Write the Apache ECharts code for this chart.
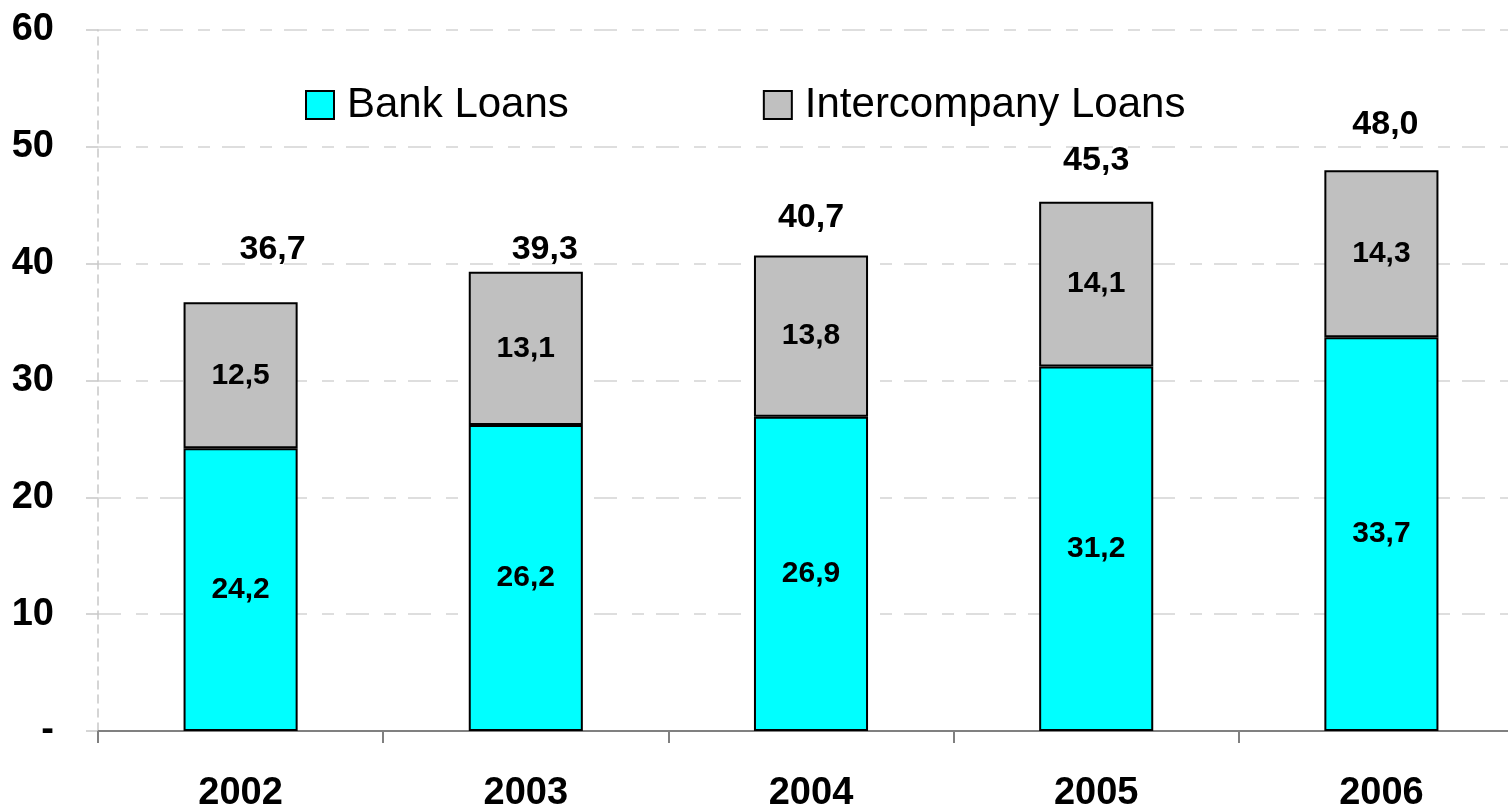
<!DOCTYPE html>
<html>
<head>
<meta charset="utf-8">
<script src="https://cdn.jsdelivr.net/npm/echarts@6/dist/echarts.min.js"></script>
<style>
html,body{margin:0;padding:0;background:#fff;overflow:hidden;}
#c{width:1508px;height:809px;}
</style>
</head>
<body>
<div id="c"></div>
<script>
const categories = ['2002', '2003', '2004', '2005', '2006'];
const bankLoans = [24.2, 26.2, 26.9, 31.2, 33.7];
const intercompanyLoans = [12.5, 13.1, 13.8, 14.1, 14.3];
const totals = [36.7, 39.3, 40.7, 45.3, 48.0];
const yTicks = [0, 10, 20, 30, 40, 50, 60];

// label nudges (style only), to mimic the original's hand-placed total labels
const totalLabelNudge = [[32, -12], [19, 19], [0, 3], [0, 0], [4, -5]];

const FONT = "'Liberation Sans', Arial, sans-serif";
const fmt = v => v.toFixed(1).replace('.', ',');

const chart = echarts.init(document.getElementById('c'));
chart.setOption({
  animation: false,
  backgroundColor: '#ffffff',
  grid: { left: 98, top: 30, width: 1426, height: 701, containLabel: false, outerBoundsMode: 'none' },
  legend: {
    data: ['Bank Loans', 'Intercompany Loans'],
    left: 305, top: 84, padding: 0,
    itemWidth: 28, itemHeight: 28, itemGap: 194,
    icon: 'rect',
    textStyle: { fontFamily: FONT, fontSize: 42, color: '#000', padding: [0, 0, 0, 8] }
  },
  xAxis: {
    type: 'category',
    data: categories,
    axisLine: { lineStyle: { color: '#808080', width: 2 } },
    axisTick: { show: true, length: 12, lineStyle: { color: '#808080', width: 2 } },
    axisLabel: { margin: 44, fontFamily: FONT, fontWeight: 'bold', fontSize: 38, color: '#000' }
  },
  yAxis: {
    type: 'value',
    min: yTicks[0], max: yTicks[yTicks.length - 1], interval: 10,
    axisLine: { show: true, lineStyle: { color: '#c8c8c8', width: 1.5, type: [8, 6] } },
    axisTick: { show: true, length: 12, lineStyle: { color: '#c8c8c8', width: 1.5 } },
    splitLine: { show: true, lineStyle: { color: '#d4d4d4', width: 1.5, type: [23, 15, 12, 12] } },
    axisLabel: {
      margin: 44, fontFamily: FONT, fontWeight: 'bold', fontSize: 38, color: '#000',
      formatter: v => v === 0 ? '-' : String(v)
    }
  },
  series: [
    {
      name: 'Bank Loans', type: 'bar', stack: 'loans', barWidth: '40%',
      data: bankLoans,
      itemStyle: { color: '#00ffff', borderColor: '#000', borderWidth: 2 },
      label: { show: true, position: 'inside', fontFamily: FONT, fontWeight: 'bold', fontSize: 30, color: '#000', formatter: p => fmt(p.value) }
    },
    {
      name: 'Intercompany Loans', type: 'bar', stack: 'loans', barWidth: '40%',
      data: intercompanyLoans,
      itemStyle: { color: '#c0c0c0', borderColor: '#000', borderWidth: 2 },
      label: { show: true, position: 'inside', fontFamily: FONT, fontWeight: 'bold', fontSize: 30, color: '#000', formatter: p => fmt(p.value) }
    },
    {
      name: 'Total', type: 'scatter', symbolSize: 0, silent: true,
      data: totals.map((v, i) => ({ value: v, label: { offset: totalLabelNudge[i] } })),
      itemStyle: { opacity: 1, color: '#000' },
      label: { show: true, position: 'top', distance: 24, fontFamily: FONT, fontWeight: 'bold', fontSize: 34, color: '#000', opacity: 1, formatter: p => fmt(p.value) }
    }
  ]
});
</script>
</body>
</html>
